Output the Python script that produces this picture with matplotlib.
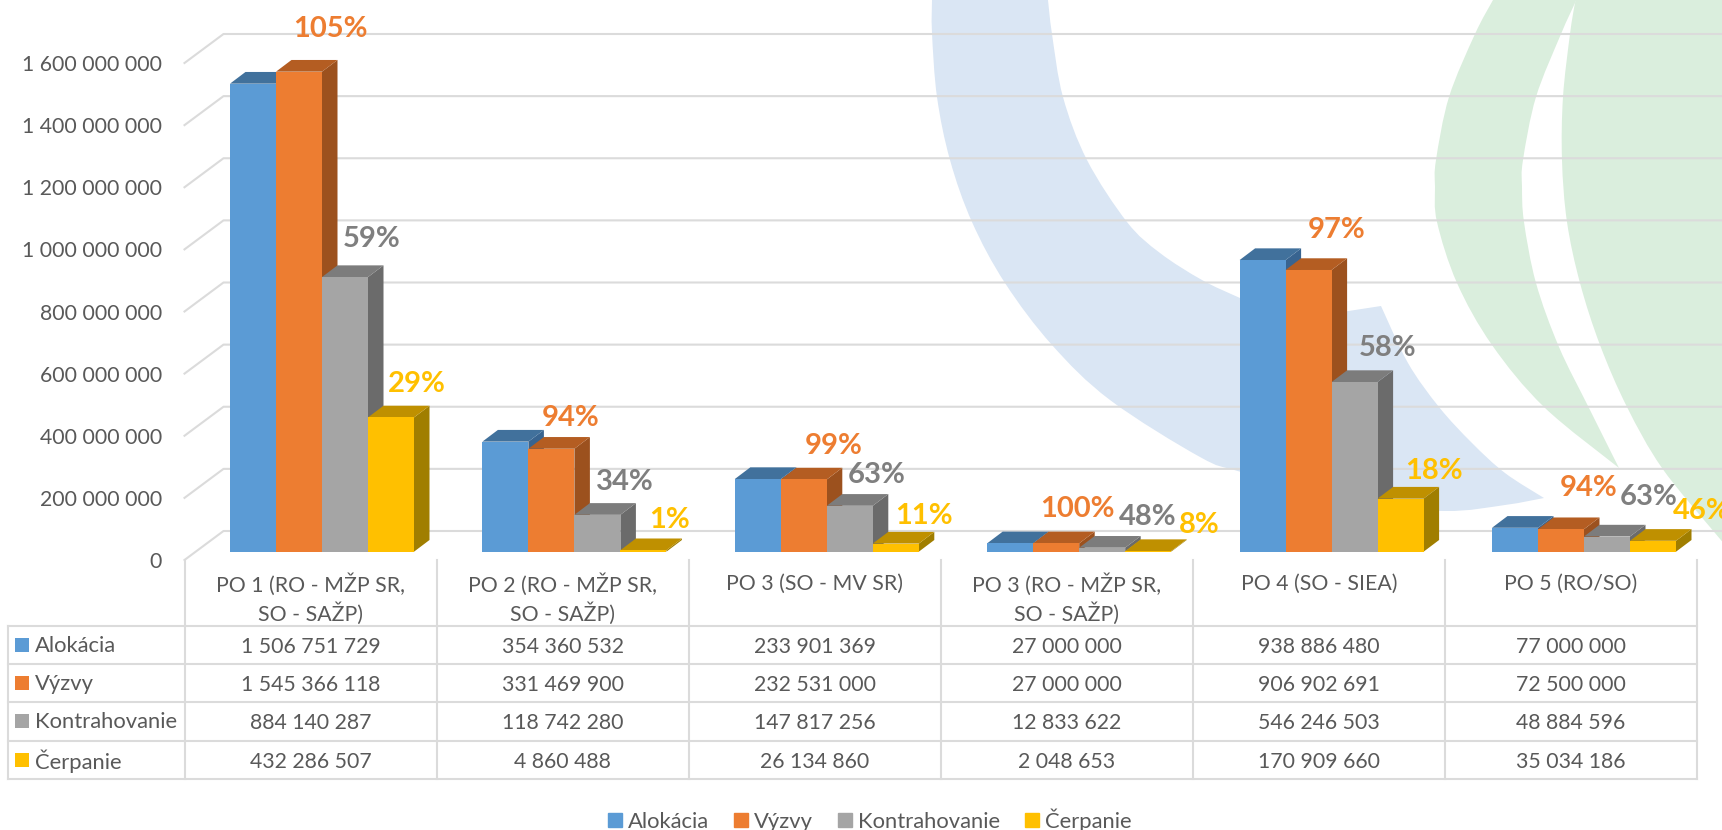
#!/usr/bin/env python3
"""
Operational programme allocation chart: fake-3D columns over a data table.
"""

import matplotlib
matplotlib.use("Agg")
import matplotlib.pyplot as plt
from matplotlib.patches import PathPatch, Patch
from matplotlib.path import Path
import numpy as np

# ---------------------------------------------------------------------------
# Data
# ---------------------------------------------------------------------------

CATEGORIES = ["PO 1 (RO - MŽP SR,\nSO - SAŽP)", "PO 2 (RO - MŽP SR,\nSO - SAŽP)",
              "PO 3 (SO - MV SR)", "PO 3 (RO - MŽP SR,\nSO - SAŽP)",
              "PO 4 (SO - SIEA)", "PO 5 (RO/SO)"]
SERIES = ["Alokácia", "Výzvy", "Kontrahovanie", "Čerpanie"]

ALOKACIA = [1506751729, 354360532, 233901369, 27000000, 938886480, 77000000]
VYZVY = [1545366118, 331469900, 232531000, 27000000, 906902691, 72500000]
KONTRAHOVANIE = [884140287, 118742280, 147817256, 12833622, 546246503, 48884596]
CERPANIE = [432286507, 4860488, 26134860, 2048653, 170909660, 35034186]

PCT_VYZVY = ["105%", "94%", "99%", "100%", "97%", "94%"]
PCT_KONTRAHOVANIE = ["59%", "34%", "63%", "48%", "58%", "63%"]
PCT_CERPANIE = ["29%", "1%", "11%", "8%", "18%", "46%"]

Y_TICKS = [0, 200000000, 400000000, 600000000, 800000000, 1000000000,
           1200000000, 1400000000, 1600000000]

# ---------------------------------------------------------------------------
# Style
# ---------------------------------------------------------------------------

W, H = 1722, 830
FRONT = ["#5B9BD5", "#ED7D31", "#A5A5A5", "#FFC000"]
TOP = ["#41719C", "#B45D22", "#7C7C7C", "#BF9000"]
SIDE = ["#386490", "#9C511E", "#6B6B6B", "#A07E00"]
TEXT = "#595959"
LINE = "#DBDBDB"
BLUE_BG = "#DAE6F4"
GREEN_BG = "#DAEEDD"

# pixel layout of the plot
LEFT, RIGHT = 184.5, 1697.0
BASE = 551.7
PX_PER_UNIT = 497 / 1.6e9
CAT_W = (RIGHT - LEFT) / 6
BAR_W = 46 / CAT_W
BAR_START = 45.5 / CAT_W
BAR_PITCH = 252.4 / CAT_W
PX_X = 1 / CAT_W
PX_Y = 1 / PX_PER_UNIT

# label offsets from the middle of each bar's top edge, pixels
OFF_VYZVY = [(31, 43), (19, 31), (30, 33), (21, 34), (28, 40), (28, 41)]
OFF_KONTRAHOVANIE = [(27, 38), (27, 33), (27, 31), (45, 31), (33, 34), (42, 40)]
OFF_CERPANIE = [(26, 33), (26, 30), (28, 28), (51, 26), (33, 28), (49, 30)]

ROW_Y = [646.7, 685, 723.3, 762]
ROW_LINES = [625.7, 663.7, 702, 740.7, 779]

plt.rcParams.update({
    "font.family": ["Lato", "DejaVu Sans"],
    "font.size": 15.3,
})


def fmt(v):
    return f"{v:,}".replace(",", " ")


def smooth(points):
    """Cubic pieces (Catmull-Rom) passing through the given pixel points."""
    pts = np.array(points, dtype=float)
    verts, codes = [], []
    for i in range(len(pts) - 1):
        p0 = pts[max(i - 1, 0)]
        p1, p2 = pts[i], pts[i + 1]
        p3 = pts[min(i + 2, len(pts) - 1)]
        verts += [tuple(p1 + (p2 - p0) / 6), tuple(p2 - (p3 - p1) / 6), tuple(p2)]
        codes += [Path.CURVE4] * 3
    return verts, codes


def swoosh(ax, edges, color):
    verts = [edges[0][0]]
    codes = [Path.MOVETO]
    for edge in edges:
        if len(edge) == 2:
            verts.append(edge[1])
            codes.append(Path.LINETO)
        else:
            v, c = smooth(edge)
            verts += v
            codes += c
    verts.append(verts[0])
    codes.append(Path.CLOSEPOLY)
    ax.add_patch(PathPatch(Path(verts, codes), facecolor=color, edgecolor="none", zorder=1))


def draw_background(px):
    # blue arc
    swoosh(px, [
        [(1048, 0), (1052, 34), (1063, 97), (1087, 160), (1127, 222), (1160, 253), (1202, 280),
         (1240, 298), (1290, 320)],
        [(1290, 320), (1381, 306)],
        [(1381, 306), (1408, 363), (1439, 407), (1472, 443), (1505, 473), (1544, 498)],
        [(1544, 498), (1505, 505), (1445, 511), (1350, 503), (1241, 472), (1200, 457),
         (1110, 400), (1052, 345), (1005, 283), (972, 222), (950, 160), (937, 97),
         (932, 33), (932, 0)],
    ], BLUE_BG)
    # green crescent
    swoosh(px, [
        [(1493, 0), (1475, 34), (1449, 97), (1436, 160), (1435, 187), (1437, 222),
         (1457, 283), (1492, 345), (1544, 407), (1619, 468)],
        [(1619, 468), (1589, 408), (1559, 347), (1536, 283), (1524, 222), (1522, 187),
         (1523, 160), (1536, 97), (1561, 34), (1575, 3), (1577, -2)],
    ], GREEN_BG)
    # green blade on the right
    swoosh(px, [
        [(1577, -2), (1575, 3), (1570, 34), (1563, 97), (1562, 160), (1567, 222), (1580, 283),
         (1600, 345), (1627, 407), (1662, 468), (1715, 533), (1722, 541)],
        [(1722, 541), (1722, -2)],
    ], GREEN_BG)


def draw_grid(ax):
    dx, dy = 39 * PX_X, 20.7 * PX_Y
    drop = 8.3 * PX_Y
    for v in Y_TICKS:
        ax.plot([0, dx, 6.2], [v - drop, v + dy, v + dy], color=LINE, lw=1.5,
                zorder=2, solid_joinstyle="round")
        ax.text(-22.5 * PX_X, v - drop - 2 * PX_Y, fmt(v), ha="right", va="center", color=TEXT)


def draw_bars(ax, values, labels, offsets):
    dx, dy = 15.5 * PX_X, 11.7 * PX_Y
    for s, vals in enumerate(values):
        lefts = BAR_START + np.arange(6) * BAR_PITCH + s * BAR_W
        ax.bar(lefts, vals, width=BAR_W, align="edge", color=FRONT[s], zorder=4 + s * 2 + 1)
        for x, v in zip(lefts, vals):
            ax.fill([x + BAR_W, x + BAR_W + dx, x + BAR_W + dx, x + BAR_W],
                    [0, dy, v + dy, v], color=SIDE[s], lw=0, zorder=4 + s * 2)
            ax.fill([x, x + dx, x + BAR_W + dx, x + BAR_W],
                    [v, v + dy, v + dy, v], color=TOP[s], lw=0, zorder=4 + s * 2)
        if s == 0:
            continue
        for x, v, txt, off in zip(lefts, vals, labels[s - 1], offsets[s - 1]):
            ax.annotate(txt, xy=(x + BAR_W / 2, v), xytext=off, textcoords="offset pixels",
                        ha="center", va="center", color=FRONT[s] if s != 2 else "#7F7F7F",
                        fontsize=21, fontweight="bold", zorder=20, annotation_clip=False)


def draw_table(px, values):
    ink = dict(color=LINE, lw=1.5, zorder=3, solid_capstyle="projecting")
    for i in range(7):
        px.plot([LEFT + i * CAT_W] * 2, [560, ROW_LINES[-1]], **ink)
    px.plot([7.5, 7.5], [ROW_LINES[0], ROW_LINES[-1]], **ink)
    for y in ROW_LINES:
        px.plot([7.5, RIGHT], [y, y], **ink)

    for i, cat in enumerate(CATEGORIES):
        px.text(LEFT + (i + 0.5) * CAT_W, 599 if "\n" in cat else 583.7, cat, ha="center",
                va="center", color=TEXT, linespacing=1.3, zorder=5)

    for s, name in enumerate(SERIES):
        y = ROW_Y[s]
        px.add_patch(plt.Rectangle((15, y - 9), 14, 14, color=FRONT[s], lw=0, zorder=5))
        px.text(35, y - 1, name, ha="left", va="center", color=TEXT, fontsize=15.8, zorder=5)
        for i, v in enumerate(values[s]):
            px.text(LEFT + (i + 0.5) * CAT_W, y, fmt(v), ha="center", va="center",
                    color=TEXT, zorder=5)


if __name__ == "__main__":
    values = [ALOKACIA, VYZVY, KONTRAHOVANIE, CERPANIE]
    labels = [PCT_VYZVY, PCT_KONTRAHOVANIE, PCT_CERPANIE]
    offsets = [OFF_VYZVY, OFF_KONTRAHOVANIE, OFF_CERPANIE]

    fig = plt.figure(figsize=(W / 100, H / 100), dpi=100, facecolor="white")

    # pixel-coordinate layer for the backdrop and the table
    px = fig.add_axes([0, 0, 1, 1], zorder=0)
    px.set_xlim(0, W)
    px.set_ylim(H, 0)
    px.axis("off")
    draw_background(px)

    # chart layer, y=0 sits on the front edge of the columns
    ax = fig.add_axes([LEFT / W, 1 - BASE / H, (W - LEFT) / W, BASE / H], zorder=1)
    ax.patch.set_alpha(0)
    ax.axis("off")
    draw_grid(ax)
    for line in ax.lines:
        line.set_clip_on(False)
    draw_bars(ax, values, labels, offsets)
    ax.set_xlim(0, (W - LEFT) / CAT_W)
    ax.set_ylim(0, BASE * PX_Y)

    draw_table(px, values)

    fig.legend(handles=[Patch(color=c) for c in FRONT], labels=SERIES, loc="center",
               bbox_to_anchor=(870 / W, 1 - 820 / H), ncol=4, frameon=False, fontsize=15.8,
               handlelength=0.63, handleheight=0.63, handletextpad=0.27, columnspacing=1.15,
               labelcolor=TEXT)

    fig.savefig("out.png", dpi=100)
    plt.close(fig)
